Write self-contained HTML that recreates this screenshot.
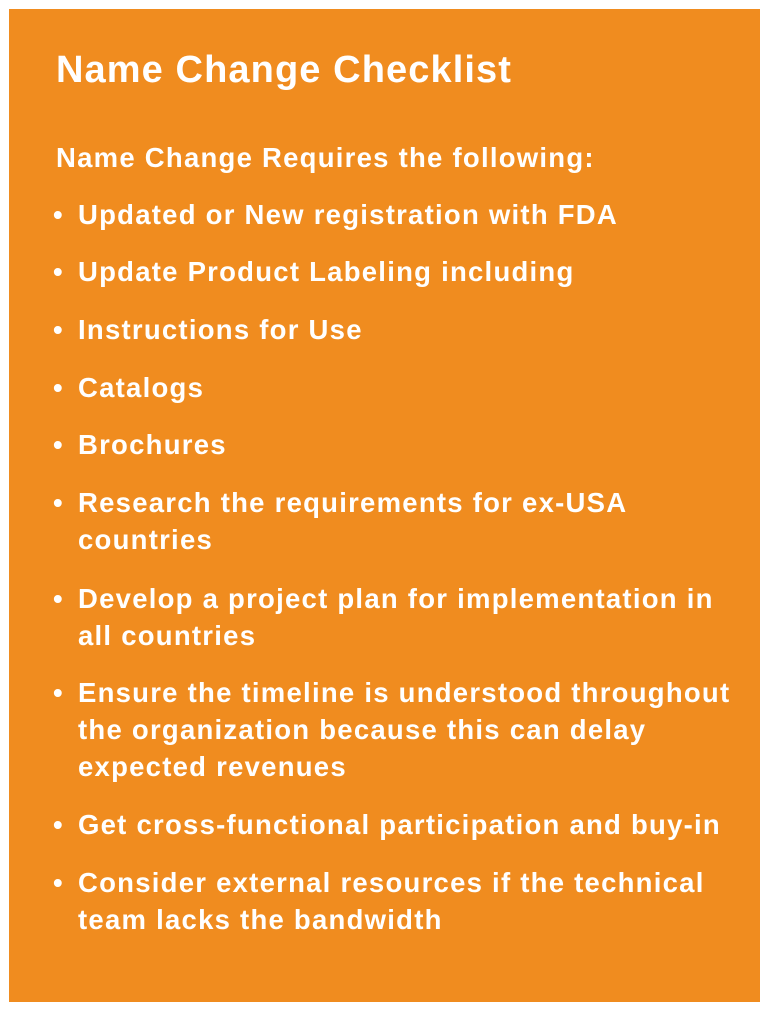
<!DOCTYPE html>
<html><head><meta charset="utf-8"><style>
html,body{margin:0;padding:0;background:#fff;}
body{width:768px;height:1011px;position:relative;overflow:hidden;font-family:"Liberation Sans",Arial,sans-serif;font-weight:bold;color:#fff;}
#card{position:absolute;left:9px;top:9px;width:751px;height:993px;background:#F08C1F;}
.l{position:absolute;left:78px;font-size:27.5px;line-height:36px;white-space:nowrap;letter-spacing:1.25px;}
.b{position:absolute;left:53px;font-size:27.5px;line-height:36px;}
#title{position:absolute;left:56px;top:48px;font-size:38px;line-height:44px;white-space:nowrap;letter-spacing:1.1px;}
</style></head><body>
<div id="card"></div>
<div id="title">Name Change Checklist</div>
<div class="l" style="left:56px;top:140px">Name Change Requires the following:</div>

<div class="b" style="top:197px">•</div>
<div class="l" style="top:197px">Updated or New registration with FDA</div>

<div class="b" style="top:254px">•</div>
<div class="l" style="top:254px">Update Product Labeling including</div>

<div class="b" style="top:312px">•</div>
<div class="l" style="top:312px">Instructions for Use</div>

<div class="b" style="top:370px">•</div>
<div class="l" style="top:370px">Catalogs</div>

<div class="b" style="top:427px">•</div>
<div class="l" style="top:427px">Brochures</div>

<div class="b" style="top:485px">•</div>
<div class="l" style="top:485px">Research the requirements for ex-USA</div>
<div class="l" style="top:522px">countries</div>

<div class="b" style="top:581px">•</div>
<div class="l" style="top:581px">Develop a project plan for implementation in</div>
<div class="l" style="top:618px">all countries</div>

<div class="b" style="top:675px">•</div>
<div class="l" style="top:675px">Ensure the timeline is understood throughout</div>
<div class="l" style="top:712px">the organization because this can delay</div>
<div class="l" style="top:749px">expected revenues</div>

<div class="b" style="top:807px">•</div>
<div class="l" style="top:807px">Get cross-functional participation and buy-in</div>

<div class="b" style="top:865px">•</div>
<div class="l" style="top:865px">Consider external resources if the technical</div>
<div class="l" style="top:902px">team lacks the bandwidth</div>
</body></html>
